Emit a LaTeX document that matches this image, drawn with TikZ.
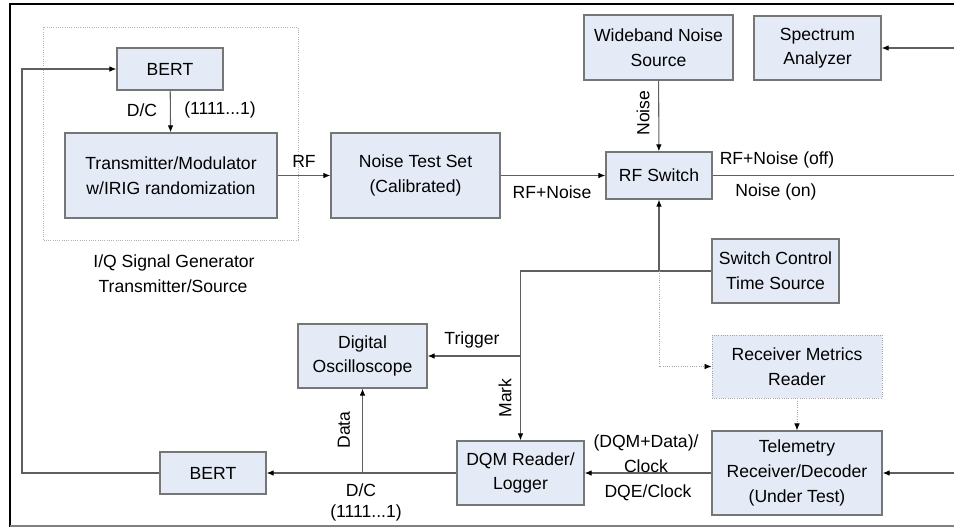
\documentclass[tikz,border=0pt]{standalone}
\usepackage{fontspec}
\setmainfont{Liberation Sans}
\usetikzlibrary{arrows.meta}
\definecolor{boxfill}{RGB}{228,235,246}
\definecolor{boxline}{RGB}{118,118,118}
\definecolor{wiregray}{RGB}{95,95,95}
\begin{document}
\begin{tikzpicture}[x=0.025cm,y=-0.025cm,>={Latex[length=5pt,width=4pt,color=black]},
  font=\fontsize{12.5}{17.5}\selectfont,
  blk/.style={draw=boxline,line width=0.9pt,fill=boxfill,align=center,inner sep=0pt},
  wire/.style={draw=wiregray,line width=0.75pt},
  dots/.style={draw=gray!70,line width=0.6pt,densely dotted},
  lbl/.style={inner sep=0pt,align=center}]
  \useasboundingbox (0,0) rectangle (954,529);
  \draw[line width=2pt] (954,4) -- (10,4) -- (10,527);
  \draw[gray,line width=1pt] (10,526) -- (954,526);
  % signal generator group
  \draw[dots,draw=gray!60] (43,27) rectangle (298,240);
  \node[blk,minimum width=2.65cm,minimum height=1.05cm] (bertA) at (170,69) {BERT};
  \node[blk,minimum width=5.3cm,minimum height=2.125cm] (tx) at (171,175.5) {Transmitter/Modulator\\w/IRIG randomization};
  \node[lbl] (grpA) at (174,263) {I/Q Signal Generator};
  \node[lbl] (grpB) at (173,286) {Transmitter/Source};
  % boxes
  \node[blk,minimum width=4.225cm,minimum height=2.125cm] (nts) at (415.5,175.5) {Noise Test Set\\(Calibrated)};
  \node[blk,minimum width=2.65cm,minimum height=1.175cm] (rfsw) at (659,175.5) {RF Switch};
  \node[blk,minimum width=3.725cm,minimum height=1.625cm] (wns) at (658.5,47.5) {Wideband Noise\\Source};
  \node[blk,minimum width=3.175cm,minimum height=1.6cm] (spec) at (817.5,48) {Spectrum\\Analyzer};
  \node[blk,minimum width=3.175cm,minimum height=1.6cm] (sct) at (775.5,271) {Switch Control\\Time Source};
  \node[blk,dots,fill=boxfill,minimum width=4.25cm,minimum height=1.575cm] (rmr) at (797,366.5) {Receiver Metrics\\Reader};
  \node[blk,minimum width=4.25cm,minimum height=2.1cm] (tel) at (797,473) {Telemetry\\Receiver/Decoder\\(Under Test)};
  \node[blk,minimum width=3.175cm,minimum height=1.6cm] (dqm) at (520.5,473) {DQM Reader/\\Logger};
  \node[blk,minimum width=3.225cm,minimum height=1.6cm] (osc) at (362.5,356) {Digital\\Oscilloscope};
  \node[blk,minimum width=2.65cm,minimum height=1.05cm] (bertB) at (213,473) {BERT};
  % free ends and junctions
  \coordinate (loop) at (22,473);
  \coordinate (inSpec) at (954,48);
  \coordinate (outSw) at (954,175.5);
  \coordinate (inTel) at (954,473);
  \coordinate (ctlA) at (659,271);
  \coordinate (ctlB) at (520.5,271);
  \coordinate (trig) at (520.5,356);
  \coordinate (dataJ) at (362.5,473);
  \coordinate (dotC) at (659,366.5);
  % connectors
  \draw[wire,->] (bertA) -- (tx);
  \node[lbl] (dcA) at (142,110) {D/C};
  \node[lbl] (patA) at (220,110) {(1111...1)};
  \draw[wire,->] (bertB.west) -- (loop) |- (bertA.west);
  \draw[wire,->] (tx) -- (nts) node[lbl,pos=0.5,above=5pt] (rfl) {RF};
  \draw[wire,->] (nts) -- (rfsw);
  \node[lbl] (rfn) at (552,192) {RF+Noise};
  \draw[wire,->] (wns) -- (rfsw);
  \node[lbl,rotate=90] (nsl) at (643,113) {Noise};
  \draw[wire] (rfsw) -- (outSw);
  \node[lbl] (offl) at (777,160) {RF+Noise (off)};
  \node[lbl] (onl) at (776,192) {Noise (on)};
  \draw[wire,->] (inSpec) -- (spec);
  \draw[wire,->] (inTel) -- (tel);
  \draw[wire,->] (sct.west) -- (ctlB) -- (dqm.north);
  \draw[wire,->] (ctlA) -- (rfsw.south);
  \draw[wire,->] (trig) -- (osc.east);
  \node[lbl] (trl) at (472,340) {Trigger};
  \node[lbl,rotate=90] (mkl) at (505,398) {Mark};
  \draw[dots,->] (ctlA) -- (dotC) -- (rmr.west);
  \draw[dots,->] (rmr) -- (tel);
  \draw[wire,->] (tel) -- (dqm);
  \node[lbl] (dqml) at (646,454) {(DQM+Data)/\\Clock};
  \node[lbl] (dqel) at (648,493) {DQE/Clock};
  \draw[wire,->] (dqm) -- (bertB);
  \draw[wire,->] (dataJ) -- (osc.south);
  \node[lbl,rotate=90] (dtl) at (344,430) {Data};
  \node[lbl] (dcB) at (361,490) {D/C};
  \node[lbl] (patB) at (366,513) {(1111...1)};
\end{tikzpicture}
\end{document}
